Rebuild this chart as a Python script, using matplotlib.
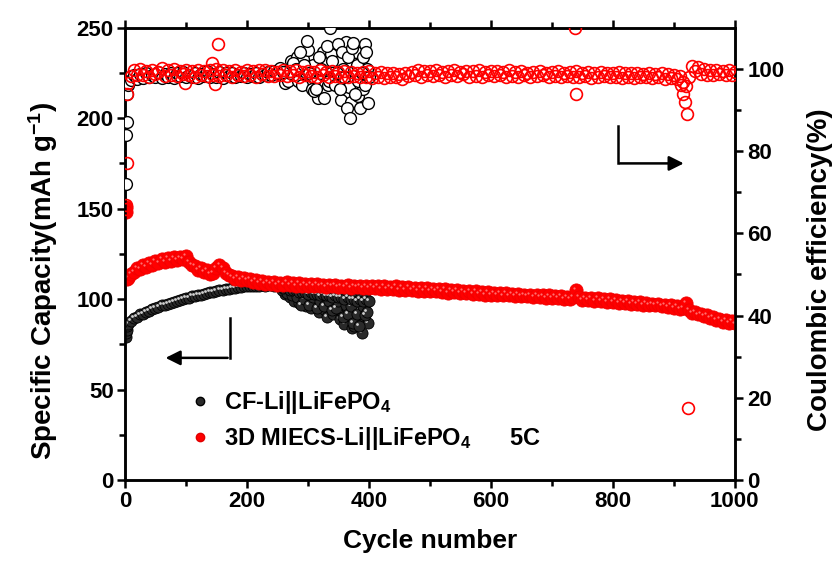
import numpy as np
import matplotlib
matplotlib.use('Agg')
import matplotlib.pyplot as plt
from matplotlib.lines import Line2D
from matplotlib.transforms import offset_copy

plt.rcParams['font.family'] = ['Liberation Sans', 'DejaVu Sans']
plt.rcParams['font.weight'] = 'bold'
plt.rcParams['mathtext.fontset'] = 'custom'
plt.rcParams['mathtext.rm'] = 'Liberation Sans:bold'
plt.rcParams['mathtext.default'] = 'rm'

# ---- CF-Li||LiFePO4 : discharge capacity (mAh/g), cycles 1-4 then every 5 up to 255
cf_cyc = [1, 2, 3, 4] + list(range(5, 256, 5))
cf_cap = [79, 81, 83, 85,
          86, 88, 89.5, 90, 91.5, 92, 93, 93.5, 94.5, 95, 95.5, 96.5, 96.5, 97.5, 98, 98.5, 99, 99.5, 100, 100.5,
          100.5, 101.5, 101.5, 102.5, 102.5, 103, 103.5, 104, 104, 104.5, 105, 105, 105.5, 105.5, 106, 106, 106.5, 106.5, 107, 107,
          107, 107.5, 107.5, 107.5, 108, 107.5, 108, 108, 107.5, 108, 107.5]
# unstable part (cycles 255-400)
cf_cyc2 = [255, 260, 265, 270, 275, 280, 285, 290, 295, 300, 305, 310, 315, 320, 325,
           330, 335, 340, 345, 350, 355, 360, 365, 370, 375, 380, 385, 390, 395, 400]
cf_cap2 = [107, 106, 106, 105, 105, 105, 104, 104, 104, 103, 104, 103, 103, 102, 103,
           102, 102, 101, 102, 101, 101, 100, 101, 100, 100, 99, 100, 99, 100, 99]
cf_cyc3 = [262, 270, 278, 285, 290, 297, 300, 305, 312, 318, 322, 328, 332, 338, 342,
           348, 352, 356, 360, 364, 368, 372, 375, 378, 382, 388, 392, 396, 399]
cf_cap3 = [103, 101, 99, 98, 100, 96, 99, 95, 97, 93, 98, 94, 90, 96, 92,
           97, 89, 93, 86, 95, 91, 84, 85, 88, 94, 81, 90, 98, 87]
cf_cyc4 = [258, 266, 274, 282, 288, 294, 302, 308, 315, 320, 326, 335, 340, 346, 350,
           358, 362, 366, 370, 374, 380, 384, 390, 394, 397]
cf_cap4 = [105, 103.5, 102, 101, 97, 100, 97, 101, 95, 99, 96, 99, 94, 95, 99,
           90, 97, 92, 96, 87, 92, 85, 96, 91, 93]

# ---- CF-Li||LiFePO4 : coulombic efficiency (%), cycles 1-4 then every 5 up to 260
cf_ce_cyc = [1, 2, 3, 4] + list(range(5, 261, 5))
cf_ce = [72, 84, 87, 94,
         96, 97.2, 98.4, 97.6, 98.8, 97.8, 99.0, 97.9, 98.6, 98.0, 99.2, 97.7, 98.7, 98.1, 99.1, 97.8, 98.9, 98.2, 99.3, 97.9,
         98.6, 98.0, 99.0, 97.7, 98.8, 98.3, 99.4, 97.9, 98.7, 98.1, 99.2, 97.8, 98.9, 98.2, 99.0, 98.0, 98.6, 98.3, 99.1, 97.9,
         98.8, 98.2, 99.0, 98.0, 98.7, 98.4, 99.3, 98.6, 99.5, 98.9, 100.2, 99.3]
cf_ce_cyc2 = [262, 268, 271, 276, 280, 284, 287, 290, 294, 298, 302, 306, 310, 314,
              318, 322, 326, 331, 334, 336, 340, 344, 348, 350, 353, 356, 360, 364,
              366, 369, 372, 374, 377, 380, 383, 385, 388, 391, 394, 396, 398, 400]
cf_ce2 = [96.6, 97, 99, 101.5, 100, 97, 104, 96, 101, 106.8, 99, 95, 94.7, 95,
          103, 100, 93, 105.6, 97, 110, 102, 96, 99, 106, 95, 104, 98, 90.5,
          103, 88, 105, 106.3, 94, 101, 97, 90.5, 99, 103, 96, 104, 91.7, 98]
cf_ce_cyc3 = [265, 273, 278, 282, 289, 292, 296, 300, 304, 308, 312, 316, 320, 324, 328,
              333, 338, 342, 346, 352, 355, 358, 362, 368, 371, 376, 379, 382, 387, 390, 393, 397]
cf_ce3 = [99.5, 102, 98, 103, 100.5, 102.5, 97.5, 104.5, 96.5, 101, 97.5, 93, 99, 104, 101.5,
          96, 103.5, 98, 100.5, 102, 92.5, 100, 106.5, 95.5, 92, 99.5, 104, 93.5, 101, 95, 106, 100]

# ---- 3D MIECS-Li||LiFePO4 : discharge capacity (mAh/g), cycles 1-4 then every 5
m_cyc = [1, 2, 3, 4] + list(range(5, 1001, 5))
m_cap = [151, 148, 112, 111,
         111.5, 114, 115, 117, 116.5, 119, 118, 120, 119, 121, 120, 122, 120.5, 122.5, 121, 123, 121.5, 123, 122, 124,
         120.5, 119, 118.5, 116, 117, 115, 116, 114, 114.5, 117, 119, 117, 114.5, 113.5, 112.5, 111, 112, 110.5, 111.5, 110.5,
         111, 109.5, 110.5, 109, 110, 108.5, 109.5, 108.5, 109.5, 108, 109, 108, 109.5, 108, 109, 107.5, 109, 107.5, 108.5, 107.5,
         108.5, 107, 108.5, 107, 108, 106.5, 108, 107, 108, 106.5, 107.5, 106.5, 108, 106, 107.5, 106.5, 107.5, 106, 107.5, 106,
         107, 106, 107.5, 105.5, 107, 105.5, 106.5, 105.5, 107, 105, 106.5, 105, 106.5, 105, 106, 104.5, 106, 104.5, 106, 104.5,
         105.5, 104.5, 105.5, 104, 105.5, 103.5, 105, 104, 105, 103.5, 104.5, 103.5, 104.5, 103, 104.5, 103, 104, 102.5, 104, 102.5,
         103.5, 102.5, 103.5, 102, 103.5, 102, 103, 101.5, 103, 101.5, 102.5, 101.5, 102.5, 101, 102.5, 101, 102, 100.5, 102, 100.5,
         101.5, 100.5, 101.5, 100, 101, 100, 101, 105, 101, 99.5, 100.5, 99.5, 100.5, 99, 100.5, 99, 100, 98.5, 100, 98.5,
         99.5, 98, 99, 98, 99, 97.5, 98.5, 97.5, 98.5, 97, 98, 96.5, 97.5, 96.5, 97.5, 96, 97, 95.5, 96.5, 95,
         96, 94.5, 95, 98, 94, 92.5, 93, 91.5, 92, 90.5, 91, 89.5, 90, 88.5, 89, 87.5, 88.5, 87, 88, 86.5]

# ---- 3D MIECS-Li||LiFePO4 : coulombic efficiency (%), cycles 1-4 then every 5
m_ce_cyc = [1, 2, 3, 4] + list(range(5, 1001, 5))
m_ce = [66, 67, 77, 94,
        96.5, 98.2, 99.6, 98.6, 99.9, 98.4, 99.5, 98.1, 99.8, 98.7, 99.3, 100.1, 98.3, 99.6, 98.5, 99.9, 98.2, 99.4, 98.8, 99.7,
        98.4, 99.5, 98.1, 99.8, 98.6, 99.4, 98.2, 99.7, 98.5, 99.9, 98.3, 99.6, 98.4, 99.5, 98.0, 99.8, 98.6, 99.3, 98.2, 99.7,
        98.5, 99.4, 98.1, 99.6, 98.7, 99.8, 98.3, 99.5, 98.2, 99.3, 98.6, 99.6, 98.2, 99.4, 98.5, 99.7, 98.0, 99.3, 98.6, 99.5,
        98.3, 99.2, 98.1, 99.6, 98.4, 99.3, 98.0, 99.5, 98.3, 99.2, 98.1, 99.4, 97.9, 99.3, 98.2, 99.1, 97.9, 99.2, 98.0, 99.4,
        97.8, 99.1, 98.0, 99.3, 97.8, 99.1, 98.1, 99.0, 97.9, 98.8, 97.6, 99.0, 98.2, 99.3, 98.4, 99.6, 98.1, 99.4, 98.6, 99.5,
        98.3, 99.7, 98.5, 99.2, 98.1, 99.5, 98.4, 99.6, 98.2, 99.3, 98.7, 99.5, 98.1, 99.4, 98.3, 99.6, 98.0, 99.2, 98.5, 99.4,
        98.2, 99.5, 98.4, 99.3, 98.0, 99.6, 98.3, 99.2, 98.1, 99.4, 98.5, 99.1, 98.0, 99.3, 98.2, 99.5, 98.4, 99.0, 98.1, 99.3,
        98.2, 99.4, 98.0, 99.1, 98.3, 99.2, 97.9, 99.4, 98.1, 99.0, 98.3, 99.2, 97.8, 99.1, 98.0, 99.3, 98.2, 98.9, 97.9, 99.1,
        98.0, 99.2, 97.8, 99.0, 98.1, 98.9, 97.7, 99.1, 97.9, 98.8, 98.0, 99.0, 97.7, 98.8, 97.9, 99.0, 97.6, 98.7, 97.8, 98.6,
        97.5, 98.2, 96.8, 95.8, 98.0, 100.8, 99.4, 100.5, 98.8, 99.9, 98.6, 99.6, 98.4, 99.8, 98.7, 99.5, 98.5, 99.7, 98.6, 99.3]
m_out_cyc = [98, 142, 148, 153, 738, 740, 912, 915, 918, 921, 923]
m_out = [96.6, 101.5, 96.3, 106, 110, 94, 96, 94, 92, 89, 17.5]

fig = plt.figure(figsize=(8.33, 5.66), dpi=100)
ax = fig.add_axes([0.150, 0.152, 0.732, 0.799])
ax2 = ax.twinx()


def balls(a, x, y, body, edge, shine, ms=8, sms=2.0):
    a.plot(x, y, 'o', ms=ms, mfc=body, mec=edge, mew=0.6, ls='none', zorder=3)
    tr = offset_copy(a.transData, fig=fig, x=-1.4, y=1.4, units='points')
    a.plot(x, y, 'o', ms=sms, mfc=shine, mec='none', ls='none', transform=tr, zorder=3)


# capacity (left axis)
for xs, ys in [(cf_cyc3, cf_cap3), (cf_cyc4, cf_cap4), (cf_cyc2, cf_cap2), (cf_cyc, cf_cap)]:
    balls(ax, xs, ys, '#2a2a2a', 'black', '#d0d0d0')
balls(ax, m_cyc, m_cap, '#ff0000', '#f00000', '#ff7070', ms=9.5, sms=1.6)

# coulombic efficiency (right axis)
ce_kw = dict(marker='o', ms=8.5, mfc='white', mew=1.0, ls='none', zorder=3)
ax2.plot(cf_ce_cyc3, cf_ce3, mec='black', **ce_kw)
ax2.plot(cf_ce_cyc2, cf_ce2, mec='black', **ce_kw)
ax2.plot(cf_ce_cyc, cf_ce, mec='black', **ce_kw)
ce_kw['mfc'] = 'none'
ce_kw['mew'] = 1.2
ax2.plot(m_ce_cyc, m_ce, mec='red', **ce_kw)
ax2.plot(m_out_cyc, m_out, mec='red', **ce_kw)

ax.set_xlim(0, 1000)
ax.set_ylim(0, 250)
ax2.set_ylim(0, 110)
ax.set_xticks(range(0, 1001, 200))
ax.set_xticks(range(100, 1000, 200), minor=True)
ax.set_yticks(range(0, 251, 50))
ax.set_yticks(range(25, 250, 50), minor=True)
ax2.set_yticks(range(0, 101, 20))
ax2.set_yticks(range(10, 110, 20), minor=True)

for a in (ax, ax2):
    for s in a.spines.values():
        s.set_linewidth(1.8)
ax.tick_params(which='major', direction='out', length=6, width=1.8, labelsize=16, pad=2)
ax.tick_params(which='minor', direction='out', length=4, width=1.8)
ax.tick_params(axis='x', top=True, which='both')
ax2.tick_params(which='major', direction='out', length=6, width=1.8, labelsize=16, pad=3)
ax2.tick_params(which='minor', direction='out', length=4, width=1.8)

ax.set_xlabel('Cycle number', fontsize=19, fontweight='bold', labelpad=12)
ax.set_ylabel('Specific Capacity(mAh g$^{-1}$)', fontsize=20, fontweight='bold', labelpad=12)
ax2.set_ylabel('Coulombic efficiency(%)', fontsize=20, fontweight='bold', labelpad=16)
ax.yaxis.label.set_y(0.44)
ax2.yaxis.label.set_y(0.465)

# arrows
ax.plot([172, 172], [89.6, 67.5], color='black', lw=1.8, zorder=4)
ax.annotate('', xy=(62, 67.5), xytext=(173, 67.5),
            arrowprops=dict(arrowstyle='-|>', lw=1.8, color='black', mutation_scale=22), zorder=4)
ax2.plot([808, 808], [86.2, 77], color='black', lw=1.8, zorder=4)
ax2.annotate('', xy=(921, 77), xytext=(807, 77),
             arrowprops=dict(arrowstyle='-|>', lw=1.8, color='black', mutation_scale=22), zorder=4)

# legend
h1 = Line2D([], [], marker='o', ms=6, mfc='#2a2a2a', mec='black', ls='none')
h2 = Line2D([], [], marker='o', ms=6, mfc='#ff0000', mec='#e00000', ls='none')
leg = ax2.legend([h1, h2], ['CF-Li||LiFePO$_4$', '3D MIECS-Li||LiFePO$_4$      5C'],
                 loc='lower left', bbox_to_anchor=(0.07, 0.015), frameon=False,
                 prop={'size': 17, 'weight': 'bold'}, handlelength=0.9,
                 handletextpad=0.6, labelspacing=0.38)

fig.savefig('out.png', dpi=100)
